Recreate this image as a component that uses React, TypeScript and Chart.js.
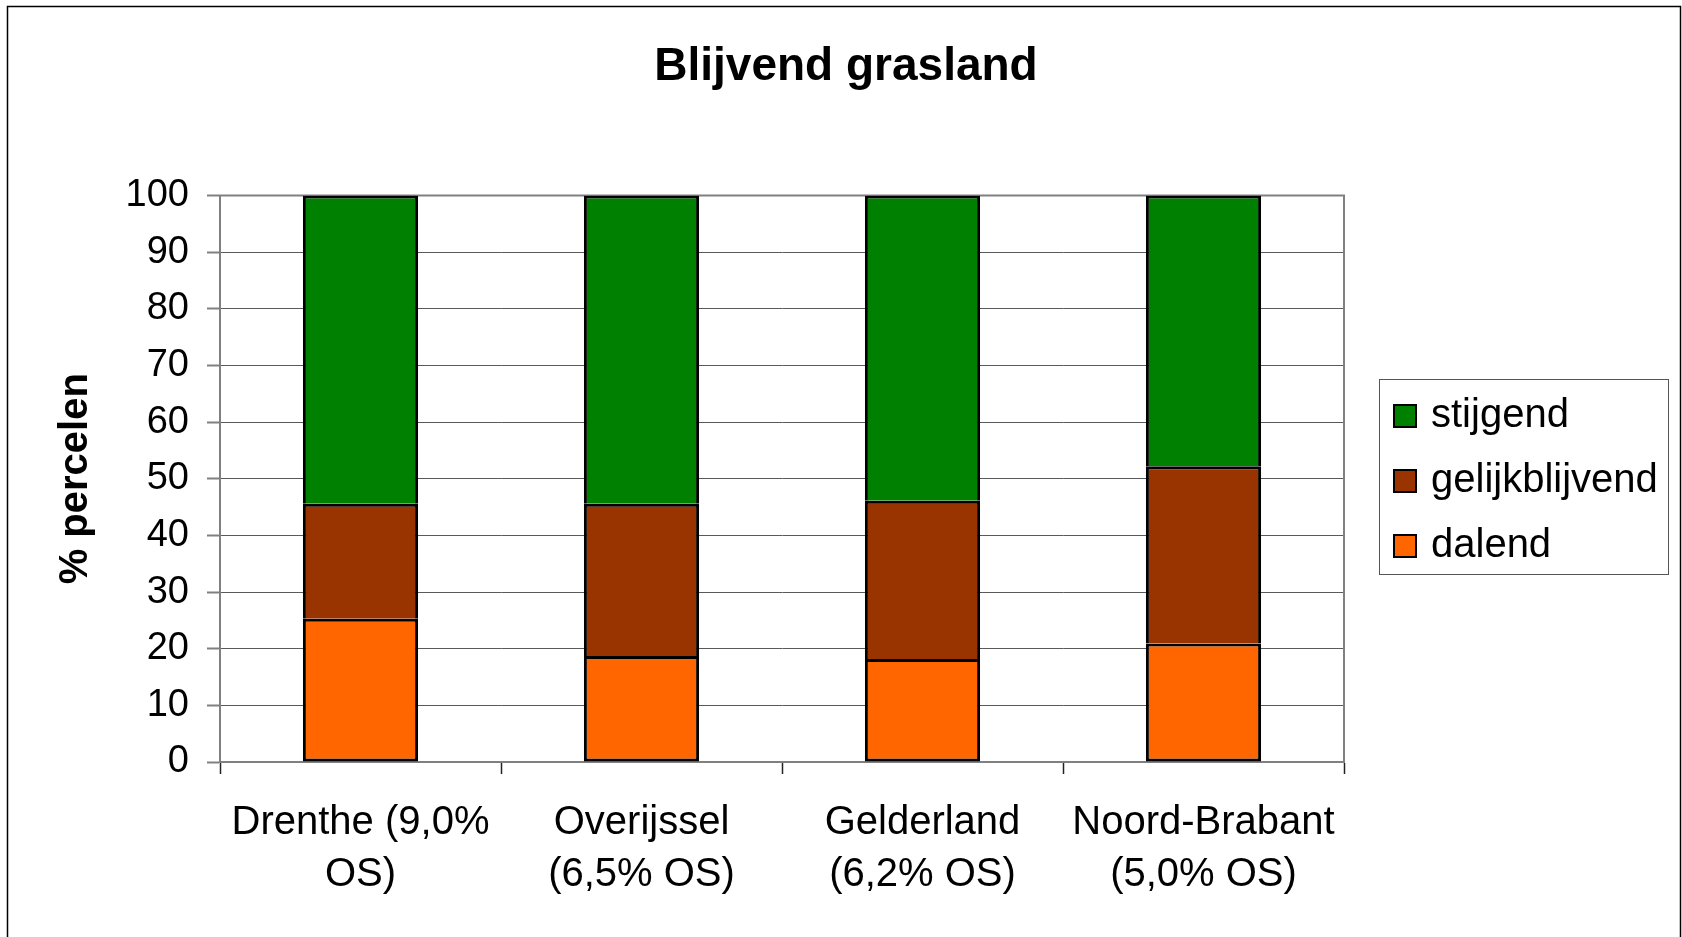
import React, { useEffect, useRef } from "react";
import { Chart, registerables } from "chart.js";

Chart.register(...registerables);

const categories: string[][] = [
  ["Drenthe (9,0%", "OS)"],
  ["Overijssel", "(6,5% OS)"],
  ["Gelderland", "(6,2% OS)"],
  ["Noord-Brabant", "(5,0% OS)"],
];
const dalend = [25.3, 18.7, 18.2, 20.9];
const gelijkblijvend = [20.3, 26.9, 27.9, 31.3];
const stijgend = [54.4, 54.4, 53.9, 47.8];
const seriesNames = ["dalend", "gelijkblijvend", "stijgend"];
const seriesColors = ["#FF6600", "#993300", "#008000"];
const chartTitle = "Blijvend grasland";
const yTitle = "% percelen";
const yMin = 0;
const yMax = 100;
const yStep = 10;

const FONT = '"Liberation Sans", Arial, sans-serif';

const framePlugin = {
  id: "frame",
  beforeDraw(chart: any) {
    const { ctx, width, height } = chart;
    ctx.save();
    ctx.fillStyle = "#ffffff";
    ctx.fillRect(0, 0, width, height);
    ctx.strokeStyle = "#000000";
    ctx.lineWidth = 1.5;
    ctx.strokeRect(7.5, 6.5, 1673, height + 20);
    ctx.restore();
  },
  beforeDatasetsDraw(chart: any) {
    const { ctx, chartArea } = chart;
    ctx.save();
    ctx.strokeStyle = "#808080";
    ctx.lineWidth = 2;
    ctx.strokeRect(chartArea.left, chartArea.top, chartArea.right - chartArea.left, chartArea.bottom - chartArea.top);
    ctx.restore();
  },
  afterDraw(chart: any) {
    const { ctx } = chart;
    ctx.save();
    ctx.fillStyle = "#000000";
    ctx.font = `bold 46px ${FONT}`;
    ctx.textAlign = "center";
    ctx.textBaseline = "alphabetic";
    ctx.fillText(chartTitle, 846, 80);
    ctx.restore();
  },
};

const legendPlugin = {
  id: "boxLegend",
  afterDraw(chart: any) {
    const { ctx, chartArea } = chart;
    const w = 289;
    const h = 195;
    const left = Math.round(chartArea.right + 35);
    const top = Math.round((chartArea.top + chartArea.bottom) / 2 - h / 2 - 2);
    ctx.save();
    ctx.strokeStyle = "#555555";
    ctx.lineWidth = 1;
    ctx.strokeRect(left + 0.5, top + 0.5, w, h);
    const ds = chart.data.datasets.slice().reverse();
    ds.forEach((d: any, i: number) => {
      const cy = top + 37 + i * 65;
      ctx.fillStyle = d.backgroundColor;
      ctx.fillRect(left + 15, cy - 11, 22, 22);
      ctx.strokeStyle = "#000000";
      ctx.lineWidth = 2;
      ctx.strokeRect(left + 15, cy - 11, 22, 22);
      ctx.fillStyle = "#000000";
      ctx.font = `40px ${FONT}`;
      ctx.textBaseline = "middle";
      ctx.textAlign = "left";
      ctx.fillText(d.label, left + 52, cy);
    });
    ctx.restore();
  },
};

export default function App() {
  const ref = useRef<HTMLCanvasElement | null>(null);

  useEffect(() => {
    if (!ref.current) return;
    const values = [dalend, gelijkblijvend, stijgend];
    const chart = new Chart(ref.current, {
      type: "bar",
      data: {
        labels: categories,
        datasets: values.map((v, i) => ({
          label: seriesNames[i],
          data: v,
          backgroundColor: seriesColors[i],
          borderColor: "#000000",
          borderWidth: 3,
          borderSkipped: i === 0 ? false : "start",
          categoryPercentage: 1,
          barPercentage: 0.41,
        })),
      },
      options: {
        animation: false,
        responsive: false,
        events: [],
        layout: { padding: { left: 8, right: 338, top: 195.5, bottom: 0 } },
        plugins: {
          legend: { display: false },
          tooltip: { enabled: false },
          title: { display: false },
        },
        scales: {
          x: {
            stacked: true,
            offset: true,
            grid: {
              offset: true,
              drawOnChartArea: false,
              drawTicks: true,
              tickLength: 12,
              tickColor: "#222222",
              tickWidth: 1.5,
            },
            border: { display: true, color: "#808080", width: 2 },
            ticks: {
              color: "#000000",
              font: { family: FONT, size: 40, lineHeight: 1.3 },
              padding: 23,
              maxRotation: 0,
              autoSkip: false,
            },
            afterFit: (s: any) => {
              s.height = 175;
            },
          },
          y: {
            stacked: true,
            min: yMin,
            max: yMax,
            grid: {
              color: "#5a5a5a",
              lineWidth: 1,
              tickLength: 13,
              tickColor: "#808080",
              tickWidth: 2,
            },
            border: { display: true, color: "#808080", width: 2 },
            ticks: {
              stepSize: yStep,
              color: "#000000",
              font: { family: FONT, size: 38 },
              padding: 18,
            },
            title: {
              display: true,
              text: yTitle,
              color: "#000000",
              font: { family: FONT, size: 40, weight: "bold", lineHeight: 1.2 },
              padding: { top: 44, bottom: 0 },
            },
            afterFit: (s: any) => {
              s.width = 212;
            },
          },
        },
      },
      plugins: [framePlugin, legendPlugin],
    });
    return () => chart.destroy();
  }, []);

  return (
    <div style={{ position: "absolute", left: 0, top: 0, width: 1682, height: 937, overflow: "hidden", background: "#fff" }}>
      <canvas ref={ref} width={1682} height={937} style={{ display: "block", width: 1682, height: 937 }} />
    </div>
  );
}
